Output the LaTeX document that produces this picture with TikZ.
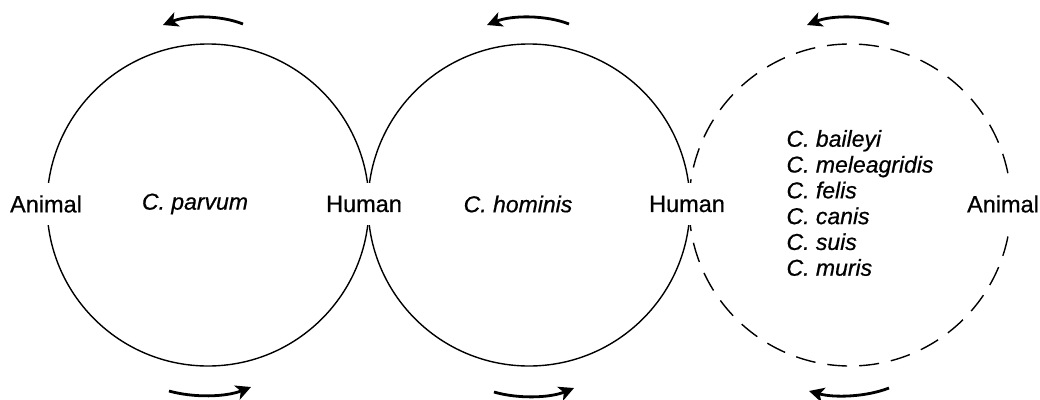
\documentclass[tikz,border=0pt]{standalone}
\usepackage{fontspec}
\setmainfont{Liberation Sans}[FakeBold=0.6]
\usetikzlibrary{arrows.meta}
\begin{document}
\begin{tikzpicture}[x=1pt,y=-1pt,
  ring/.style={line width=1.4pt},
  dashring/.style={line width=1.4pt, dash pattern=on 20pt off 12pt},
  host/.style={fill=white, inner xsep=1pt, inner ysep=0pt, minimum height=42pt, font=\fontsize{23.5}{28}\selectfont},
  species/.style={font=\fontsize{23}{25.8}\selectfont\itshape},
  flow/.style={line width=2.8pt, -{Stealth[length=15pt,width=15pt,inset=4pt]}}
]
\useasboundingbox (0,0) rectangle (1040,399);
\fill[white] (0,0) rectangle (1040,399);
% circles
\node[ring, draw, circle, minimum size=322pt, inner sep=0pt] (c1) at (208,205) {};
\node[ring, draw, circle, minimum size=322pt, inner sep=0pt] (c2) at (529,205) {};
\node[dashring, draw, circle, minimum size=322pt, inner sep=0pt] (c3) at (850,205) {};
% host labels
\node[host] (a1) at (46,204) {Animal};
\node[host] (h1) at (364,204) {Human};
\node[host] (h2) at (687,204) {Human};
\node[host] (a2) at (1003,204) {Animal};
% species
\node[species] (s1) at (195,204) {C. parvum};
\node[species] (s2) at (518,204) {C. hominis};
\node[species, align=left, anchor=west] (s3) at (783,203) {C. baileyi\\C. meleagridis\\C. felis\\C. canis\\C. suis\\C. muris};
% arrow end points
\coordinate (t1s) at (243,24); \coordinate (t1e) at (163,25);
\coordinate (t2s) at (569,24); \coordinate (t2e) at (487,25);
\coordinate (t3s) at (889,24); \coordinate (t3e) at (807,25);
\coordinate (b1s) at (169,391); \coordinate (b1e) at (251,387);
\coordinate (b2s) at (494,392); \coordinate (b2e) at (574,388);
\coordinate (b3s) at (889,388); \coordinate (b3e) at (809,391);
% arrows
\draw[flow] (t1s) .. controls (220,15) and (188,15) .. (t1e);
\draw[flow] (t2s) .. controls (546,15) and (512,15) .. (t2e);
\draw[flow] (t3s) .. controls (866,15) and (832,15) .. (t3e);
\draw[flow] (b1s) .. controls (194,398) and (226,397) .. (b1e);
\draw[flow] (b2s) .. controls (518,399) and (550,398) .. (b2e);
\draw[flow] (b3s) .. controls (866,397) and (834,398) .. (b3e);
\end{tikzpicture}
\end{document}
